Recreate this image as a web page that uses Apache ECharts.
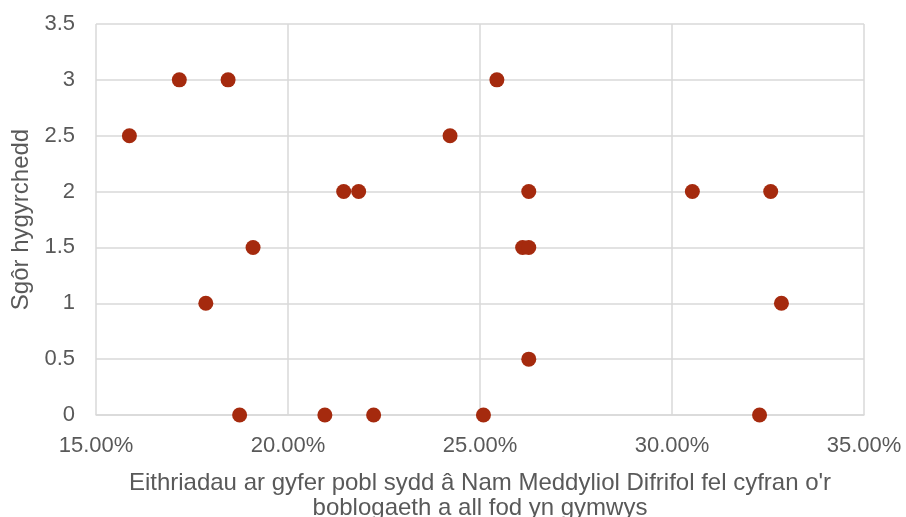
<!DOCTYPE html>
<html>
<head>
<meta charset="utf-8">
<script src="https://cdn.jsdelivr.net/npm/echarts@6/dist/echarts.min.js"></script>
<style>
  html, body { margin: 0; padding: 0; background: #fff; }
  #chart { width: 906px; height: 517px; }
</style>
</head>
<body>
<div id="chart"></div>
<script>
// canran yr eithriadau (%) a sgôr hygyrchedd
var xVals = [15.87, 17.17, 18.44, 25.44, 24.22, 21.45, 21.84, 26.27, 30.53, 32.57,
             19.09, 26.11, 26.27, 17.86, 32.85, 26.27, 18.74, 20.96, 22.23, 25.09, 32.28];
var yVals = [2.5, 3, 3, 3, 2.5, 2, 2, 2, 2, 2,
             1.5, 1.5, 1.5, 1, 1, 0.5, 0, 0, 0, 0, 0];
var xTitle = "Eithriadau ar gyfer pobl sydd â Nam Meddyliol Difrifol fel cyfran o'r\nboblogaeth a all fod yn gymwys";
var yTitle = "Sgôr hygyrchedd";

var points = [];
for (var i = 0; i < xVals.length; i++) {
  points.push([xVals[i], yVals[i]]);
}

var myChart = echarts.init(document.getElementById("chart"));
var font = "'Liberation Sans', Arial, sans-serif";
var option = {
  animation: false,
  grid: { left: 96, right: 42, top: 24, bottom: 102, outerBoundsMode: "none", containLabel: false },
  xAxis: {
    type: "value",
    min: 15, max: 35, interval: 5,
    name: xTitle,
    nameLocation: "middle",
    nameGap: 56,
    nameTextStyle: { color: "#595959", fontSize: 24, fontFamily: font, lineHeight: 25 },
    axisLine: { show: true, lineStyle: { color: "#d9d9d9", width: 1.5 } },
    axisTick: { show: false },
    axisLabel: {
      color: "#595959", fontSize: 22, fontFamily: font, margin: 20,
      formatter: function (v) { return v.toFixed(2) + "%"; }
    },
    splitLine: { show: true, lineStyle: { color: "#d9d9d9", width: 1.5 } }
  },
  yAxis: {
    type: "value",
    min: 0, max: 3.5, interval: 0.5,
    name: yTitle,
    nameLocation: "middle",
    nameGap: 63,
    nameTextStyle: { color: "#595959", fontSize: 24, fontFamily: font },
    axisLine: { show: false },
    axisTick: { show: false },
    axisLabel: { color: "#595959", fontSize: 22, fontFamily: font, margin: 21 },
    splitLine: { show: true, lineStyle: { color: "#d9d9d9", width: 1.5 } }
  },
  series: [{
    type: "scatter",
    data: points,
    symbolSize: 15,
    itemStyle: { color: "#a52a0e", opacity: 1 }
  }]
};
myChart.setOption(option);
window.addEventListener("resize", function () { myChart.resize(); });
</script>
</body>
</html>
